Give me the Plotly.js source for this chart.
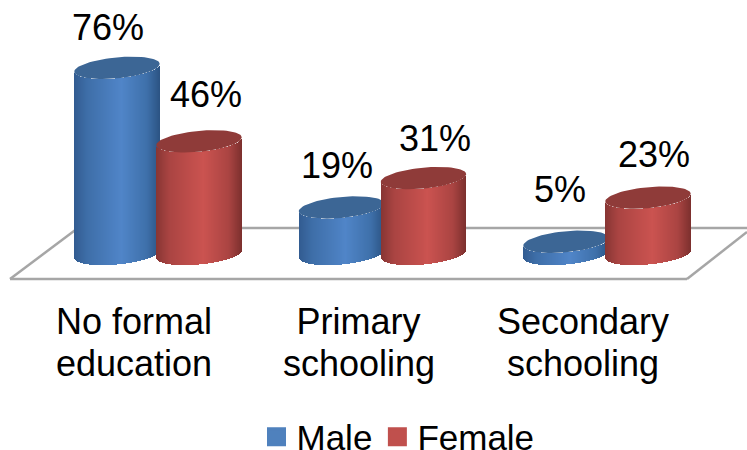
<!DOCTYPE html>
<html>
<head>
<meta charset="utf-8">
<script src="https://cdn.plot.ly/plotly-3.0.1.min.js"></script>
<style>html,body{margin:0;padding:0;background:#fff}</style>
</head>
<body>
<div id="chart" style="width:747px;height:450px"></div>
<script>
const categoryLine1 = ['No formal', 'Primary', 'Secondary'];
const categoryLine2 = ['education', 'schooling', 'schooling'];
const maleValues = [76, 19, 5];
const femaleValues = [46, 31, 23];
const seriesNames = ['Male', 'Female'];

const W = 747, H = 450, plotH = 290;
const pxPerCat = 224.5, pxPerVal = 2.45;
const x0px = 158, y0px = 254;
const halfW = 42.75, groupOff = 41;
const capB = 10.5, capK = 0.09;
const font = 'Liberation Sans, Arial, Helvetica, sans-serif';

const xRange = [-x0px / pxPerCat, (W - x0px) / pxPerCat];
const yRange = [(y0px - plotH) / pxPerVal, y0px / pxPerVal];

const blueStops = [[0, [50, 92, 145]], [0.15, [62, 110, 168]], [0.55, [80, 133, 200]], [0.85, [62, 112, 170]], [1, [44, 84, 132]]];
const redStops = [[0, [136, 54, 52]], [0.15, [170, 68, 66]], [0.55, [203, 83, 80]], [0.85, [170, 68, 66]], [1, [125, 48, 46]]];

function ramp(stops, t) {
  for (let i = 1; i < stops.length; i++) {
    if (t <= stops[i][0]) {
      const a = stops[i - 1], b = stops[i], f = (t - a[0]) / (b[0] - a[0]);
      return 'rgb(' + a[1].map((c, j) => Math.round(c + (b[1][j] - c) * f)).join(',') + ')';
    }
  }
  return 'rgb(' + stops[stops.length - 1][1].join(',') + ')';
}
function edge(u, sign) {
  const r = Math.max(0, 1 - (u / halfW) * (u / halfW));
  return (capK * u + sign * capB * Math.sqrt(r)) / pxPerVal;
}
function bodyTrace(values, dir, stops, z) {
  const xs = [], ys = [], bases = [], widths = [], colors = [];
  const n = Math.round(halfW * 2);
  values.forEach((v, c) => {
    for (let i = 0; i < n; i++) {
      const u = -halfW + (i + 0.5) * (2 * halfW / n);
      xs.push(c + (dir * groupOff + u) / pxPerCat);
      bases.push(edge(u, -1));
      ys.push(v);
      widths.push((2 * halfW / n) / pxPerCat);
      colors.push(ramp(stops, i / (n - 1)));
    }
  });
  return {type: 'bar', x: xs, y: ys, base: bases, width: widths, zorder: z,
    marker: {color: colors, line: {width: 0}}, showlegend: false, hoverinfo: 'skip'};
}
function capTrace(values, dir, color, z) {
  const xs = [], ys = [];
  values.forEach((v, c) => {
    for (let a = 0; a <= 72; a++) {
      const t = a / 72 * 2 * Math.PI, u = halfW * Math.cos(t);
      xs.push(c + (dir * groupOff + u) / pxPerCat);
      ys.push(v + (capK * u + capB * Math.sin(t)) / pxPerVal);
    }
    xs.push(null); ys.push(null);
  });
  return {type: 'scatter', mode: 'lines', x: xs, y: ys, fill: 'toself', fillcolor: color, zorder: z,
    line: {width: 0, color: color}, showlegend: false, hoverinfo: 'skip'};
}
function legendTrace(name, color) {
  return {type: 'scatter', mode: 'markers', name: name, x: [null], y: [null],
    marker: {symbol: 'square', size: 16, color: color, line: {width: 3, color: color}}};
}

const traces = [
  bodyTrace(maleValues, -1, blueStops, 1),
  capTrace(maleValues, -1, '#3c6695', 2),
  bodyTrace(femaleValues, 1, redStops, 3),
  capTrace(femaleValues, 1, '#8f3b39', 4),
  legendTrace(seriesNames[0], '#4f81bd'),
  legendTrace(seriesNames[1], '#c0504d')
];

const labelShiftMale = [[-9, 40], [-5, 42], [-6, 52]];
const labelShiftFemale = [[7, 47], [11, 40], [6, 43]];
const annotations = [];
function addLabels(values, dir, shifts) {
  values.forEach((v, c) => annotations.push({
    xref: 'x', yref: 'y', x: c + dir * groupOff / pxPerCat, y: v, text: v + '%', showarrow: false,
    xshift: shifts[c][0], yshift: shifts[c][1], yanchor: 'middle', xanchor: 'center',
    font: {family: font, size: 36, color: '#000'}
  }));
}
addLabels(maleValues, -1, labelShiftMale);
addLabels(femaleValues, 1, labelShiftFemale);
categoryLine2.forEach((t, c) => annotations.push({
  xref: 'x', yref: 'paper', x: c, y: -(363 - plotH) / plotH, text: t, showarrow: false,
  xshift: -24, yanchor: 'middle', xanchor: 'center', font: {family: font, size: 36, color: '#000'}
}));

const fx = p => p / W, fy = p => 1 - p / plotH;
const floorColor = '#a6a6a6';
const floorPath = [[10, 279, 78, 228], [78, 228, 747, 228], [10, 279, 687, 279], [687, 279, 747, 232]];
const shapes = floorPath.map(s => ({
  type: 'line', xref: 'paper', yref: 'paper', layer: 'below',
  x0: fx(s[0]), y0: fy(s[1]), x1: fx(s[2]), y1: fy(s[3]), line: {color: floorColor, width: 2.5}
}));

const layout = {
  width: W, height: H, autosize: false,
  margin: {l: 0, r: 0, t: 0, b: H - plotH, pad: 0, autoexpand: false},
  paper_bgcolor: '#fff', plot_bgcolor: 'rgba(0,0,0,0)',
  barmode: 'overlay', bargap: 0,
  xaxis: {type: 'linear', range: xRange, fixedrange: true, showgrid: false, zeroline: false, showline: false,
    tickmode: 'array', tickvals: [0, 1, 2], ticktext: categoryLine1, ticks: 'outside', ticklen: 0, tickwidth: 0,
    tickcolor: 'rgba(0,0,0,0)', ticklabelshift: -24, automargin: false,
    tickfont: {family: font, size: 36, color: '#000'}},
  yaxis: {range: yRange, fixedrange: true, visible: false},
  legend: {orientation: 'h', x: 398 / W, xanchor: 'center', y: -(437 - plotH) / plotH, yanchor: 'middle',
    font: {family: font, size: 35, color: '#000'}, itemwidth: 30, bgcolor: 'rgba(0,0,0,0)', traceorder: 'normal'},
  annotations: annotations,
  shapes: shapes,
  showlegend: true
};
Plotly.newPlot('chart', traces, layout, {displayModeBar: false, staticPlot: true});
</script>
</body>
</html>
